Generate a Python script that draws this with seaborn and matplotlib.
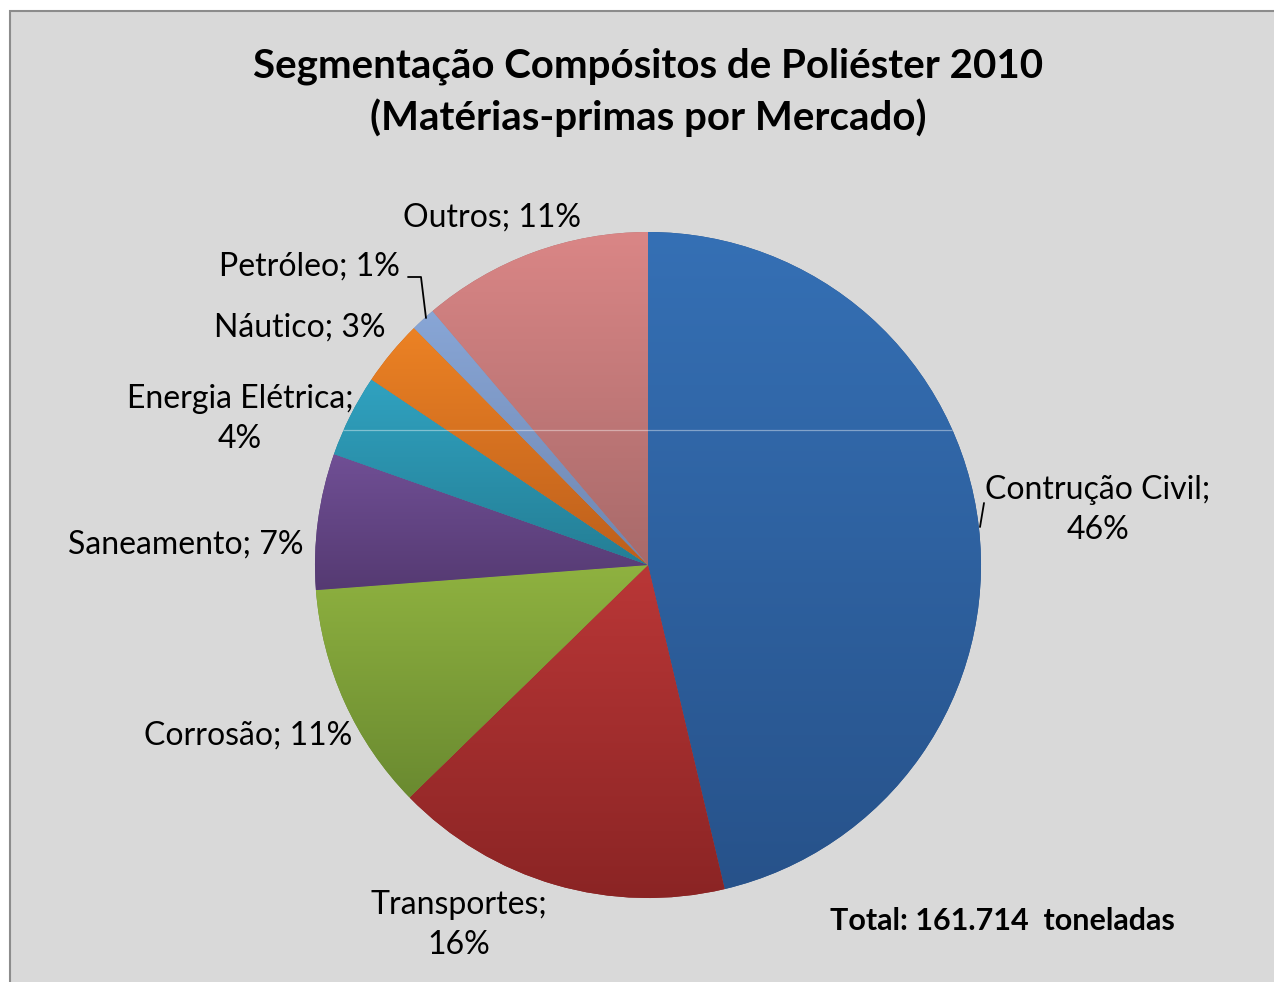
import numpy as np
import matplotlib.pyplot as plt
import seaborn as sns
from matplotlib.patches import Rectangle, Circle
from matplotlib.colors import LinearSegmentedColormap

categorias = ['Contrução Civil', 'Transportes', 'Corrosão', 'Saneamento',
              'Energia Elétrica', 'Náutico', 'Petróleo', 'Outros']
percentuais = [46.3, 16.4, 11.1, 6.6, 4.0, 3.2, 1.2, 11.2]
rotulos = ['Contrução Civil;\n46%', 'Transportes;\n16%', 'Corrosão; 11%', 'Saneamento; 7%',
           'Energia Elétrica;\n4%', 'Náutico; 3%', 'Petróleo; 1%', 'Outros; 11%']
titulo = 'Segmentação Compósitos de Poliéster 2010\n(Matérias-primas por Mercado)'
total_txt = 'Total: 161.714  toneladas'

cores_topo = ['#3570b5', '#ba3737', '#8fb240', '#704f95', '#30a2c0', '#ec8224', '#88a6d6', '#da8686']
cores_base = ['#27528a', '#8a2424', '#6a8a30', '#553a72', '#247e95', '#bd5f1c', '#6f86b0', '#a86a6a']

# posicoes dos rotulos em pixels (x, y) e alinhamento
pos_rotulos = [(1098, 510, 'center'), (459, 925, 'center'), (352, 736, 'right'),
               (303, 545, 'right'), (240, 419, 'center'), (385, 328, 'right'),
               (400, 267, 'right'), (492, 218, 'center')]

W, H = 1274, 982
sns.set_theme(style='white')
plt.rcParams['font.family'] = ['Lato', 'DejaVu Sans']

fig = plt.figure(figsize=(W / 100, H / 100), dpi=100)
fig.patch.set_facecolor('white')
fig.patches.append(Rectangle((10 / W, -0.1), 1.2, 1 - 11 / H + 0.1, transform=fig.transFigure,
                             facecolor='#d9d9d9', edgecolor='#8c8c8c', lw=1.5, zorder=-5))

cx, cy, r = 648, 565, 333
ax = fig.add_axes([(cx - r) / W, (H - cy - r) / H, 2 * r / W, 2 * r / H])
ax.set_facecolor('none')
wedges, _ = ax.pie(percentuais, startangle=90, counterclock=False, radius=1,
                   wedgeprops=dict(linewidth=0))
grad = np.linspace(0, 1, 256).reshape(-1, 1)
for w, c1, c2 in zip(wedges, cores_topo, cores_base):
    w.set_facecolor(c2)
    ys = w.get_path().vertices[:, 1]
    cmap = LinearSegmentedColormap.from_list('g', [c1, c2])
    im = ax.imshow(grad, cmap=cmap, extent=(-1, 1, ys.min(), ys.max()), aspect='auto',
                   zorder=2, origin='upper')
    im.set_clip_path(w)

# linha clara horizontal visivel no original
circ = Circle((0, 0), 1, transform=ax.transData, facecolor='none', edgecolor='none')
ax.add_patch(circ)
ln = ax.axhline((cy - 430) / r, color='white', alpha=0.4, lw=0.9, zorder=3)
ln.set_clip_path(circ)
ax.set_xlim(-1, 1)
ax.set_ylim(-1, 1)
ax.axis('off')

for txt, (px, py, ha) in zip(rotulos, pos_rotulos):
    fig.text(px / W, 1 - py / H, txt, ha=ha, va='center', fontsize=23,
             color='black', linespacing=1.38)

# linhas de chamada
fig.add_artist(plt.Line2D([408 / W, 421 / W, 426 / W], [1 - 277 / H, 1 - 277 / H, 1 - 318 / H],
                          color='black', lw=1.3))
fig.add_artist(plt.Line2D([980 / W, 984 / W], [1 - 527 / H, 1 - 503 / H], color='black', lw=1.3))

fig.text(648 / W, 1 - 92 / H, titulo, ha='center', va='center', fontsize=29,
         fontweight='bold', color='black', linespacing=1.42)
fig.text(1002 / W, 1 - 921 / H, total_txt, ha='center', va='center', fontsize=22,
         fontweight='bold', color='black')

fig.savefig('out.png', dpi=100, facecolor=fig.get_facecolor())
